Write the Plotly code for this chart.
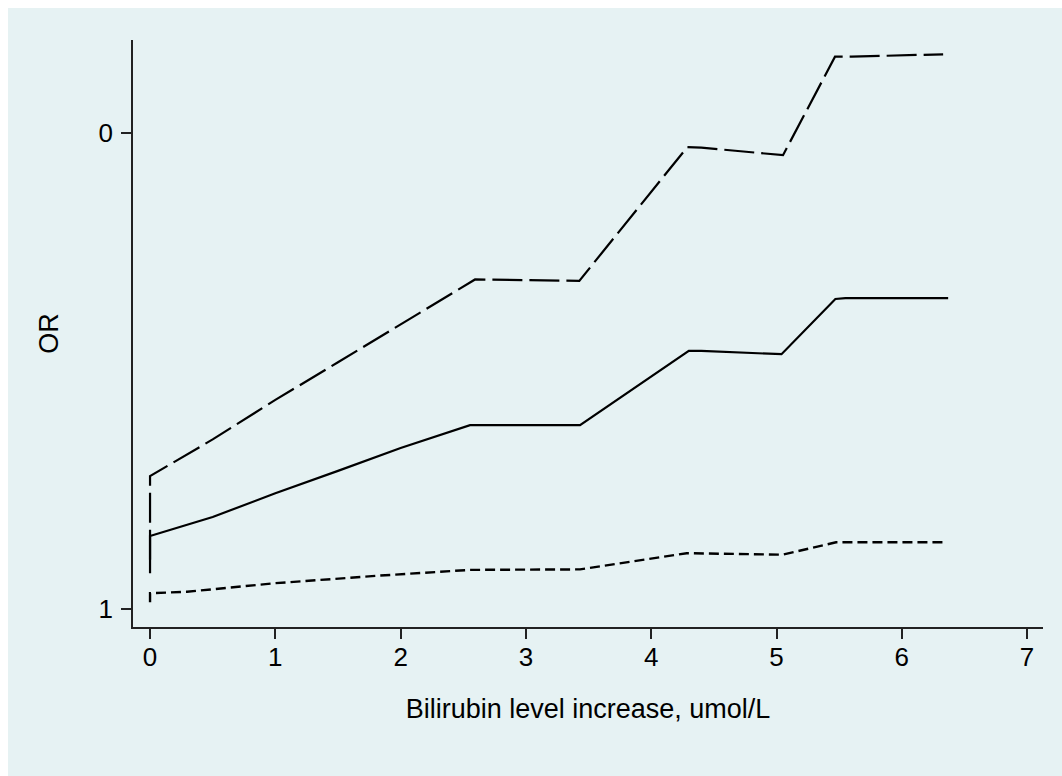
import plotly.graph_objects as go

# ---- data ----
x_or = [0, 0, 0.5, 1.0, 1.5, 2.0, 2.554, 3.432, 4.30, 4.40, 5.04, 5.47, 5.55, 6.37]
y_or = [0.924, 0.846, 0.806, 0.756, 0.709, 0.661, 0.613, 0.613, 0.457, 0.457, 0.464, 0.348, 0.346, 0.346]

x_upper = [0, 0, 0.5, 1.0, 1.5, 2.0, 2.594, 3.426, 4.288, 4.40, 5.052, 5.467, 5.60, 6.33]
y_upper = [0.896, 0.720, 0.643, 0.560, 0.481, 0.402, 0.307, 0.310, 0.029, 0.030, 0.046, -0.161, -0.161, -0.166]

x_lower = [0, 0, 0.295, 0.998, 1.836, 2.368, 2.554, 3.432, 4.283, 5.052, 5.475, 6.353]
y_lower = [0.985, 0.966, 0.963, 0.945, 0.929, 0.921, 0.917, 0.916, 0.882, 0.885, 0.859, 0.859]

x_ticks = [0, 1, 2, 3, 4, 5, 6, 7]
y_ticks = [0, 1]
y_ticktext = ["0", "1"]

x_title = "Bilirubin level increase, umol/L"
y_title = "OR"

BG = "#E6F2F3"
FONT = "Liberation Sans, Arial, sans-serif"

fig = go.Figure()
fig.add_trace(go.Scatter(x=x_upper, y=y_upper, mode="lines",
                         line=dict(color="black", width=2.2, dash="30px,7px"),
                         showlegend=False, hoverinfo="skip"))
fig.add_trace(go.Scatter(x=x_or, y=y_or, mode="lines",
                         line=dict(color="black", width=2.2),
                         showlegend=False, hoverinfo="skip"))
fig.add_trace(go.Scatter(x=x_lower, y=y_lower, mode="lines",
                         line=dict(color="black", width=2.4, dash="10px,5px"),
                         showlegend=False, hoverinfo="skip"))

# figure sits at (8,8) in the page; plot area in page px: x 133..1043, y 40..627
W, H = 1054, 768
L, T = 125, 32
R, B = W - (1043 - 8), H - (627 - 8)

fig.update_layout(
    width=W, height=H,
    margin=dict(l=L, r=R, t=T, b=B, pad=0),
    paper_bgcolor=BG,
    plot_bgcolor=BG,
    font=dict(family=FONT, size=26, color="black"),
    xaxis=dict(range=[-0.136, 7.127], tickvals=x_ticks, showgrid=False, zeroline=False,
               showline=True, linecolor="#222", linewidth=1.5,
               ticks="outside", ticklen=10, tickwidth=1.5, tickcolor="#222",
               ticklabelstandoff=-4,
               title=dict(text=x_title, standoff=28, font=dict(size=27))),
    yaxis=dict(range=[1.037, -0.196], tickvals=y_ticks, ticktext=y_ticktext,
               showgrid=False, zeroline=False,
               showline=True, linecolor="#222", linewidth=1.5,
               ticks="outside", ticklen=10, tickwidth=1.5, tickcolor="#222",
               ticklabelstandoff=3,
               title=dict(text=y_title, standoff=32, font=dict(size=27))),
)

# page: white 8px border only on the left and top, as in the reference
fig.write_html("out.html",
               post_script="document.body.style.margin='8px 0 0 8px';"
                           "document.body.style.overflow='hidden';")
